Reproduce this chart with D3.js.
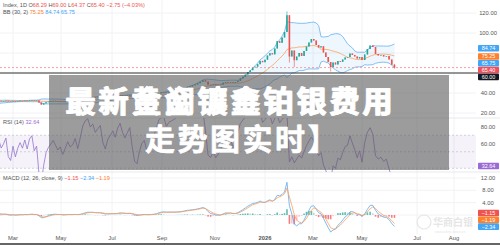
<!DOCTYPE html>
<html><head><meta charset="utf-8">
<script src="https://cdn.jsdelivr.net/npm/d3@7"></script>
<style>
body{margin:0;background:#fff;overflow:hidden}
svg{display:block;font-family:"Liberation Sans",Arial,sans-serif}
</style></head><body>
<div id="chart"></div>
<script>
// ---- data ----
var startDate = "2024-12-16", stepDays = 3;
var closes = [
  30.0, 29.5, 29.2, 29.0, 29.4, 29.1, 29.6, 30.3, 30.2, 30.5, 30.9, 30.6, 31.2, 30.9, 31.5, 32.2, 31.9, 32.3, 31.8, 32.1,
  31.8, 32.0, 32.3, 31.6, 31.4, 32.0,
  31.5, 31.9, 32.2, 32.0, 32.4, 32.1, 32.6, 32.8, 32.3, 32.5,
  30.6, 28.4, 29.6, 30.8, 31.4,
  31.8, 32.2, 31.9, 31.6, 31.8, 31.4, 31.7, 32.1, 31.9, 32.0,
  32.3, 32.0, 32.5, 33.6, 34.6, 35.2, 34.9, 35.4, 35.1, 35.5,
  35.9, 35.3, 35.0, 35.6, 35.9, 36.3, 36.1, 36.9, 37.6, 37.3,
  37.1, 37.5, 38.0, 37.3, 36.4, 36.2, 36.8, 37.3, 37.5, 37.1,
  37.2, 37.5, 37.9, 38.4, 39.9, 40.6, 40.8, 40.5, 41.2, 41.5,
  41.8, 42.5, 43.1, 43.8, 45.0, 45.9, 46.5, 47.6, 48.5, 49.8,
  51.2, 52.8, 51.4, 48.3, 47.9, 48.6, 47.8, 48.2, 48.5, 50.3,
  51.1, 50.4, 50.8, 50.1, 50.9, 52.2, 54.6, 56.3, 58.4, 61.0,
  62.8, 65.6, 66.3, 68.8, 72.1, 70.8, 73.3,
  77.5, 79.8, 78.6, 84.5, 91.8, 90.2, 95.5, 101.0, 117.8,
  76.5, 82.5, 72.8, 76.5, 80.0, 77.0, 82.0, 86.5, 90.5, 94.0,
  92.5, 88.0, 85.5, 86.8, 80.5, 76.0, 71.0, 66.0, 70.5, 68.5,
  72.0, 71.2, 73.5, 75.5, 76.0, 79.5, 78.0, 76.5, 74.5, 76.0, 73.0,
  78.5, 84.0, 87.5, 86.0, 79.0, 77.5, 78.0, 76.5, 77.0, 73.5, 68.29, 65.40
];
var wickHighDates = ["2026-01-28"], wickHighValues = [121.6];
var wickLowDates = ["2026-01-31", "2026-02-06", "2026-03-23"], wickLowValues = [70.5, 66.0, 61.5];

var lastOHLC = [68.29, 69.00, 64.37, 65.40];
var lastChange = [-2.75, -4.03];
var bbLast = [75.25, 84.74, 65.75];
var rsiLast = 32.64;
var macdLast = [-1.15, -2.34, -1.19];
var crossLevel = 60.00;

var timeTicks = ["2025-03-01", "2025-05-01", "2025-07-01", "2025-09-01", "2025-11-01",
                 "2026-01-01", "2026-03-01", "2026-05-01", "2026-07-01", "2026-08-01"];
var timeTickLabels = ["Mar", "May", "Jul", "Sep", "Nov", "2026", "Mar", "May", "Jul", "Aug"];
var priceTicks = [20, 40, 60, 80, 100, 120];
var rsiTicks = [40, 60, 80];
var macdTicks = [0, 4, 8, 12];

var titleLine1 = "最新黄金镀金铂银费用";
var titleLine1b = "最新金阅镶鑫铂银费用";
var titleLine2 = "走势图实时】";

// ---- layout ----
var width = 500, height = 245, plotRight = 476;
var parseDate = d3.timeParse("%Y-%m-%d"), fmt = d3.timeFormat("%Y-%m-%d");
var f2 = d3.format(".2f");

var svg = d3.select("#chart").append("svg")
  .attr("width", width).attr("height", height);

var x = d3.scaleTime()
  .domain(timeTicks.map(parseDate))
  .range([13, 61, 112, 162, 215, 265, 313, 362, 417, 454]);
var yP = d3.scaleLinear().domain([20, 120]).range([113, 13]);
var yR = d3.scaleLinear().domain([40, 80]).range([160, 127]);
var yM = d3.scaleLinear().domain([0, 12]).range([215, 178]);

// ---- bars ----
var start = parseDate(startDate);
var bars = closes.map(function(c, k) {
  var o = k > 0 ? closes[k - 1] : c;
  return {date: d3.timeDay.offset(start, k * stepDays), open: o, close: c,
          high: Math.max(o, c), low: Math.min(o, c)};
});
bars.forEach(function(b) {
  var key = fmt(b.date);
  var hi = wickHighDates.indexOf(key), lo = wickLowDates.indexOf(key);
  if (hi >= 0) b.high = wickHighValues[hi];
  if (lo >= 0) b.low = wickLowValues[lo];
});
var lastBar = bars[bars.length - 1];
lastBar.open = lastOHLC[0]; lastBar.high = lastOHLC[1]; lastBar.low = lastOHLC[2]; lastBar.close = lastOHLC[3];

// indicators (periods scaled to the 3-day bars)
function ema(vals, n) {
  var k = 2 / (n + 1), out = [], prev;
  vals.forEach(function(v, i) { prev = i === 0 ? v : v * k + prev * (1 - k); out.push(prev); });
  return out;
}
var bbN = 14;
bars.forEach(function(b, i) {
  if (i < bbN - 1) return;
  var win = closes.slice(i - bbN + 1, i + 1);
  var m = d3.mean(win), sd = Math.sqrt(d3.mean(win, function(v) { return (v - m) * (v - m); }));
  b.basis = m; b.upper = m + 2 * sd; b.lower = m - 2 * sd;
});
var rsiN = 5, ag = 0, al = 0;
bars.forEach(function(b, i) {
  if (i === 0) return;
  var ch = b.close - bars[i - 1].close, g = Math.max(ch, 0), l = Math.max(-ch, 0);
  if (i <= rsiN) { ag += g / rsiN; al += l / rsiN; }
  else { ag = (ag * (rsiN - 1) + g) / rsiN; al = (al * (rsiN - 1) + l) / rsiN; }
  if (i >= rsiN) b.rsi = al === 0 ? 100 : 100 - 100 / (1 + ag / al);
});
var cl = bars.map(function(b) { return b.close; });
var eF = ema(cl, 4), eS = ema(cl, 9);
var macdLine = eF.map(function(v, i) { return v - eS[i]; });
var sig = ema(macdLine, 3);
bars.forEach(function(b, i) { b.macd = macdLine[i]; b.signal = sig[i]; b.hist = macdLine[i] - sig[i]; });

var vis = bars.filter(function(b) { return x(b.date) > -4; });

// ---- clips ----
var defs = svg.append("defs");
[["cMain", 0, 118], ["cRsi", 118, 54], ["cMacd", 172, 62]].forEach(function(c) {
  defs.append("clipPath").attr("id", c[0]).append("rect")
    .attr("x", 0).attr("y", c[1]).attr("width", plotRight).attr("height", c[2]);
});

// ---- grid ----
var grid = svg.append("g").attr("stroke", "#f1f2f5").attr("stroke-width", 1);
timeTicks.forEach(function(t) {
  grid.append("line").attr("x1", x(parseDate(t))).attr("x2", x(parseDate(t)))
    .attr("y1", 0).attr("y2", 234);
});
priceTicks.forEach(function(v) {
  grid.append("line").attr("x1", 0).attr("x2", plotRight).attr("y1", yP(v)).attr("y2", yP(v));
});
macdTicks.forEach(function(v) {
  grid.append("line").attr("x1", 0).attr("x2", plotRight).attr("y1", yM(v)).attr("y2", yM(v));
});
svg.append("line").attr("x1", 0).attr("x2", width).attr("y1", 118).attr("y2", 118).attr("stroke", "#e8e9ee");
svg.append("line").attr("x1", 0).attr("x2", width).attr("y1", 172).attr("y2", 172).attr("stroke", "#e8e9ee");

// ---- main pane ----
var gMain = svg.append("g").attr("clip-path", "url(#cMain)");
var bbVis = vis.filter(function(b) { return b.basis != null; });
gMain.append("path").datum(bbVis)
  .attr("d", d3.area().x(function(d) { return x(d.date); })
    .y0(function(d) { return yP(d.lower); }).y1(function(d) { return yP(d.upper); }))
  .attr("fill", "rgba(33,150,243,0.08)");
[["upper", "#64b0f0"], ["lower", "#64b0f0"], ["basis", "#ff9f5a"]].forEach(function(s) {
  gMain.append("path").datum(bbVis)
    .attr("d", d3.line().x(function(d) { return x(d.date); }).y(function(d) { return yP(d[s[0]]); }))
    .attr("fill", "none").attr("stroke", s[1]).attr("stroke-width", 0.8);
});
var candles = gMain.selectAll(".c").data(vis).enter().append("g");
candles.append("line")
  .attr("x1", function(d) { return x(d.date); }).attr("x2", function(d) { return x(d.date); })
  .attr("y1", function(d) { return yP(d.high); }).attr("y2", function(d) { return yP(d.low); })
  .attr("stroke", function(d) { return d.close >= d.open ? "#26a69a" : "#ef5350"; })
  .attr("stroke-width", 0.6);
candles.append("rect")
  .attr("x", function(d) { return x(d.date) - 0.8; }).attr("width", 1.6)
  .attr("y", function(d) { return yP(Math.max(d.open, d.close)); })
  .attr("height", function(d) { return Math.max(0.6, Math.abs(yP(d.open) - yP(d.close))); })
  .attr("fill", function(d) { return d.close >= d.open ? "#26a69a" : "#ef5350"; });

svg.append("line").attr("x1", 0).attr("x2", plotRight)
  .attr("y1", yP(lastOHLC[3])).attr("y2", yP(lastOHLC[3]))
  .attr("stroke", "#f28b8b").attr("stroke-dasharray", "2,2").attr("stroke-width", 0.8);
svg.append("line").attr("x1", 0).attr("x2", 479)
  .attr("y1", yP(crossLevel)).attr("y2", yP(crossLevel))
  .attr("stroke", "#333").attr("stroke-width", 1);

// ---- RSI pane ----
var gR = svg.append("g").attr("clip-path", "url(#cRsi)");
gR.append("rect").attr("x", 0).attr("width", plotRight)
  .attr("y", yR(70)).attr("height", yR(30) - yR(70)).attr("fill", "rgba(126,87,194,0.08)");
[70, 50, 30].forEach(function(v) {
  gR.append("line").attr("x1", 0).attr("x2", plotRight).attr("y1", yR(v)).attr("y2", yR(v))
    .attr("stroke", "#b7b9c3").attr("stroke-dasharray", "2,2").attr("stroke-width", 0.6);
});
gR.append("path").datum(vis.filter(function(b) { return b.rsi != null; }))
  .attr("d", d3.line().x(function(d) { return x(d.date); }).y(function(d) { return yR(d.rsi); }))
  .attr("fill", "none").attr("stroke", "#9575cd").attr("stroke-width", 0.8);

// ---- MACD pane ----
var gM = svg.append("g").attr("clip-path", "url(#cMacd)");
gM.selectAll(".h").data(vis).enter().append("rect")
  .attr("x", function(d) { return x(d.date) - 0.8; }).attr("width", 1.6)
  .attr("y", function(d) { return Math.min(yM(0), yM(d.hist)); })
  .attr("height", function(d) { return Math.abs(yM(d.hist) - yM(0)); })
  .attr("fill", function(d, i) {
    var prev = i > 0 ? vis[i - 1].hist : d.hist;
    if (d.hist >= 0) return d.hist >= prev ? "#5fbfb0" : "#b2dfdb";
    return d.hist <= prev ? "#f77c80" : "#fbc6c8";
  });
[["macd", "#5aa9f2"], ["signal", "#ff9f5a"]].forEach(function(s) {
  gM.append("path").datum(vis)
    .attr("d", d3.line().x(function(d) { return x(d.date); }).y(function(d) { return yM(d[s[0]]); }))
    .attr("fill", "none").attr("stroke", s[1]).attr("stroke-width", 0.8);
});

// ---- watermark ----
var wm = svg.append("g").attr("fill", "#e6e6e6");
wm.append("circle").attr("cx", 424).attr("cy", 222).attr("r", 7)
  .attr("fill", "none").attr("stroke", "#e6e6e6").attr("stroke-width", 1.2);
wm.append("text").attr("x", 433).attr("y", 226).attr("font-size", 10)
  .attr("font-family", "Noto Sans CJK SC").attr("font-weight", "bold").text("华商白银");
wm.append("text").attr("x", 435).attr("y", 232.5).attr("font-size", 3.5).text("www.silver-news.cn");

// ---- tags (stacked so they do not overlap) ----
function stack(tags, h) {
  tags.sort(function(a, b) { return a.y - b.y; });
  for (var it = 0; it < 20; it++) {
    for (var j = 1; j < tags.length; j++) {
      var gap = tags[j].y - tags[j - 1].y;
      if (gap < h) { tags[j - 1].y -= (h - gap) / 2; tags[j].y += (h - gap) / 2; }
    }
  }
  return tags;
}
var priceTags = stack([
  {v: bbLast[1], y: yP(bbLast[1]), c: "#42a5f5"},
  {v: bbLast[0], y: yP(bbLast[0]), c: "#ff7f2a"},
  {v: bbLast[2], y: yP(bbLast[2]), c: "#42a5f5"},
  {v: lastOHLC[3], y: yP(lastOHLC[3]), c: "#ef4f5b"},
  {v: crossLevel, y: yP(crossLevel) + 1, c: "#131722"}
], 6.8);
var rsiTags = [{v: rsiLast, y: yR(rsiLast), c: "#9c6ad6"}];
var macdTags = stack([
  {v: macdLast[0], y: yM(macdLast[0]), c: "#ef5350"},
  {v: macdLast[2], y: yM(macdLast[2]) + 0.1, c: "#ff7f2a"},
  {v: macdLast[1], y: yM(macdLast[1]), c: "#42a5f5"}
], 6.8);
var allTags = priceTags.concat(rsiTags, macdTags);

// ---- right axis labels (hidden where a tag sits) ----
var axisTxt = svg.append("g").attr("font-size", 5.8).attr("fill", "#555").attr("text-anchor", "middle");
function axisLabel(yy, v) {
  var hidden = allTags.some(function(t) { return Math.abs(t.y - yy) < 6.5; });
  if (!hidden) axisTxt.append("text").attr("x", 488).attr("y", yy + 2).text(f2(v));
}
priceTicks.forEach(function(v) { axisLabel(yP(v), v); });
rsiTicks.forEach(function(v) { axisLabel(yR(v), v); });
macdTicks.forEach(function(v) { axisLabel(yM(v), v); });

allTags.forEach(function(t) {
  svg.append("rect").attr("x", 478).attr("y", t.y - 3.3).attr("width", 21).attr("height", 6.6)
    .attr("rx", 0.8).attr("fill", t.c);
  svg.append("text").attr("x", 488.5).attr("y", t.y + 1.9).attr("text-anchor", "middle")
    .attr("font-size", 5.4).attr("fill", "#fff").text(f2(t.v));
});

// ---- time axis ----
var tAxis = svg.append("g").attr("font-size", 5.8).attr("fill", "#555").attr("text-anchor", "middle");
timeTicks.forEach(function(t, i) {
  tAxis.append("text").attr("x", x(parseDate(t))).attr("y", 240)
    .attr("font-weight", timeTickLabels[i] === "2026" ? "bold" : null).text(timeTickLabels[i]);
});
svg.append("rect").attr("x", 0).attr("y", 243).attr("width", width).attr("height", 2).attr("fill", "#666");

// ---- legends ----
var leg = svg.append("g").attr("font-size", 5.6).attr("fill", "#555");
var l1 = leg.append("text").attr("x", 3).attr("y", 7);
l1.append("tspan").text("Index, 1D  O");
l1.append("tspan").attr("fill", "#ef5350").text(f2(lastOHLC[0]));
l1.append("tspan").text("  H");
l1.append("tspan").attr("fill", "#ef5350").text(f2(lastOHLC[1]));
l1.append("tspan").text("  L");
l1.append("tspan").attr("fill", "#ef5350").text(f2(lastOHLC[2]));
l1.append("tspan").text("  C");
l1.append("tspan").attr("fill", "#ef5350").text(f2(lastOHLC[3]) + "  " + f2(lastChange[0]) + " (" + f2(lastChange[1]) + "%)");
var l2 = leg.append("text").attr("x", 3).attr("y", 13.5);
l2.append("tspan").text("BB (30, 2)  ");
l2.append("tspan").attr("fill", "#ff7f2a").text(f2(bbLast[0]) + "  ");
l2.append("tspan").attr("fill", "#42a5f5").text(f2(bbLast[1]) + "  " + f2(bbLast[2]));
var l3 = leg.append("text").attr("x", 3).attr("y", 124);
l3.append("tspan").text("RSI (14)  ");
l3.append("tspan").attr("fill", "#9c6ad6").text(f2(rsiLast));
var l4 = leg.append("text").attr("x", 3).attr("y", 180);
l4.append("tspan").text("MACD (12, 26, close, 9)  ");
l4.append("tspan").attr("fill", "#ef5350").text(f2(macdLast[0]) + "  ");
l4.append("tspan").attr("fill", "#42a5f5").text(f2(macdLast[1]) + "  ");
l4.append("tspan").attr("fill", "#ff7f2a").text(f2(macdLast[2]));

// ---- overlay with title ----
svg.append("rect").attr("x", 49).attr("y", 75).attr("width", 400).attr("height", 95)
  .attr("fill", "#5a5a5a").attr("opacity", 0.6);
var title = svg.append("g").attr("font-family", "'Noto Sans CJK SC', sans-serif")
  .attr("font-weight", "bold").attr("font-size", 30).attr("fill", "#fff")
  .attr("stroke", "#fff").attr("stroke-width", 0.6).attr("stroke-linejoin", "round");
title.append("text").attr("x", 66).attr("y", 112).attr("letter-spacing", 3).text(titleLine1b);
title.append("text").attr("x", 65).attr("y", 112).attr("letter-spacing", 3).text(titleLine1);
title.append("text").attr("x", 145).attr("y", 150).attr("letter-spacing", 2.5).text(titleLine2);
</script>
</body></html>
